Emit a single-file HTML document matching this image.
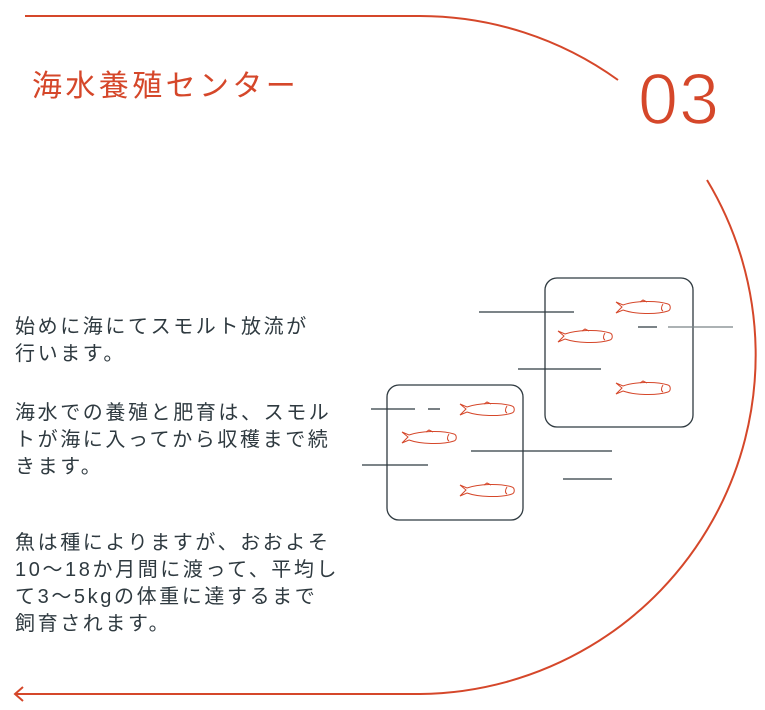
<!DOCTYPE html>
<html><head><meta charset="utf-8"><style>
body{margin:0;width:765px;height:710px;background:#fff;position:relative;overflow:hidden;font-family:"Liberation Sans","Noto Sans CJK JP",sans-serif}
.t{position:absolute;left:32px;top:67px;font-size:30px;color:#d5472a;letter-spacing:3.4px;line-height:40px;white-space:nowrap}
.n{position:absolute;left:638px;top:58px;font-size:72px;color:#d5472a;line-height:84px;letter-spacing:1px;-webkit-text-stroke:1.6px #fff}
.p{position:absolute;left:15px;font-size:20px;color:#2f3a40;line-height:27px;letter-spacing:2.6px;white-space:nowrap}
svg{position:absolute;left:0;top:0}
</style></head><body>
<svg width="765" height="710">
<g fill="none" stroke="#d5472a" stroke-width="2">
<path d="M25 16 H420 A339 339 0 0 1 618 80"/>
<path d="M707 180 A339 339 0 0 1 420 694 H15"/>
<path d="M23 687 L15 694 L23 701"/>
</g>
<g fill="none" stroke="#2f3a40" stroke-width="1.3">
<rect x="545" y="278" width="148" height="149" rx="12"/>
<rect x="387" y="385" width="136" height="135" rx="12"/>
<line x1="479" y1="312" x2="574" y2="312"/>
<line x1="518" y1="369" x2="601" y2="369"/>
<line x1="638" y1="327" x2="657" y2="327"/>
<line x1="668" y1="327" x2="733" y2="327" stroke="#7a8388"/>
<line x1="371" y1="409" x2="415" y2="409"/>
<line x1="428" y1="409" x2="440" y2="409"/>
<line x1="471" y1="451" x2="612" y2="451"/>
<line x1="362" y1="465" x2="428" y2="465"/>
<line x1="563" y1="479" x2="612" y2="479"/>
</g>
<defs><g id="f" fill="none" stroke="#d5472a" stroke-width="1">
<path d="M0 0 L6 5 L0 11 L7 8 C18 12 40 13 52 9 C55 8 55 3 52 2 C40 -2 18 -1 7 3 Z"/>
<path d="M24 0 L27 -2 L31 0"/><path d="M47 2 C45 5 45 8 47 9"/>
</g></defs>
<use href="#f" x="616" y="302"/><use href="#f" x="558" y="331"/><use href="#f" x="616" y="383"/>
<use href="#f" x="460" y="404"/><use href="#f" x="402" y="432"/><use href="#f" x="460" y="485"/>
</svg>
<div class="t">海水養殖センター</div>
<div class="n">03</div>
<div class="p" style="top:314px">始めに海にてスモルト放流が<br>行います。</div>
<div class="p" style="top:400px">海水での養殖と肥育は、スモル<br>トが海に入ってから収穫まで続<br>きます。</div>
<div class="p" style="top:530px">魚は種によりますが、おおよそ<br>10～18か月間に渡って、平均し<br>て3～5kgの体重に達するまで<br>飼育されます。</div>
</body></html>
